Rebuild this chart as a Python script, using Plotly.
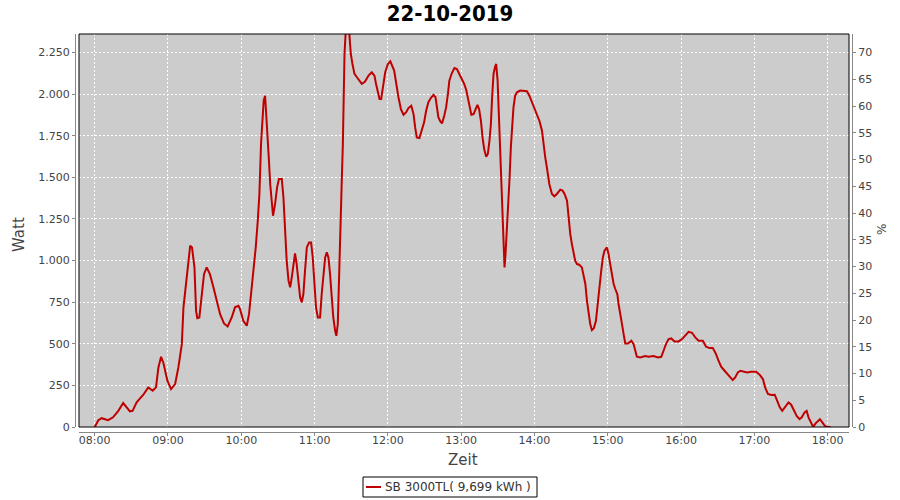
import plotly.graph_objects as go

DATE = "2019-10-22"
title_text = "22-10-2019"
series_name = "SB 3000TL( 9,699 kWh )"

times = [
    "08:00:00", "08:03:00", "08:05:40", "08:11:00", "08:15:00", "08:19:20", "08:23:20", "08:28:50",
    "08:31:00", "08:34:20", "08:39:50", "08:43:50", "08:47:30", "08:50:10", "08:52:10", "08:54:20",
    "08:56:10", "08:59:30", "09:02:30", "09:05:50", "09:08:30", "09:11:20", "09:12:40", "09:14:50",
    "09:16:10", "09:18:10", "09:19:40", "09:21:40", "09:23:00", "09:24:00", "09:25:40", "09:27:40",
    "09:29:30", "09:31:40", "09:34:20", "09:37:10", "09:39:50", "09:42:40", "09:45:50", "09:48:50",
    "09:52:10", "09:54:50", "09:57:40", "09:59:00", "10:01:40", "10:04:30", "10:06:20", "10:08:00",
    "10:09:50", "10:11:50", "10:13:30", "10:14:50", "10:16:10", "10:17:20", "10:18:20", "10:19:30",
    "10:20:20", "10:21:20", "10:22:30", "10:23:40", "10:25:00", "10:26:00", "10:27:40", "10:29:20",
    "10:30:50", "10:33:10", "10:34:30", "10:35:50", "10:37:10", "10:38:40", "10:40:00", "10:41:20",
    "10:42:40", "10:44:00", "10:45:20", "10:46:50", "10:48:10", "10:49:30", "10:50:50", "10:52:10",
    "10:53:40", "10:55:30", "10:57:10", "10:58:30", "10:59:50", "11:01:10", "11:02:40", "11:04:30",
    "11:05:50", "11:07:10", "11:08:40", "11:10:00", "11:11:20", "11:12:40", "11:14:10", "11:15:20",
    "11:16:50", "11:17:50", "11:19:00", "11:20:10", "11:21:10", "11:22:20", "11:23:10", "11:24:00",
    "11:24:30", "11:25:50", "11:27:50", "11:28:40", "11:29:40", "11:31:00", "11:32:40", "11:34:40",
    "11:36:30", "11:38:40", "11:41:20", "11:44:10", "11:46:50", "11:49:00", "11:50:20", "11:51:50",
    "11:53:10", "11:54:30", "11:55:50", "11:57:50", "12:00:00", "12:02:00", "12:05:10", "12:06:50",
    "12:08:40", "12:10:40", "12:12:50", "12:15:00", "12:16:50", "12:19:10", "12:21:00", "12:22:20",
    "12:23:40", "12:25:50", "12:27:50", "12:29:40", "12:31:20", "12:33:10", "12:35:10", "12:37:20",
    "12:39:00", "12:40:10", "12:41:20", "12:42:50", "12:44:20", "12:46:10", "12:47:40", "12:49:10",
    "12:50:20", "12:52:20", "12:54:30", "12:56:30", "12:58:40", "13:00:40", "13:02:30", "13:04:10",
    "13:05:30", "13:06:50", "13:08:20", "13:10:10", "13:11:40", "13:13:20", "13:14:40", "13:16:10",
    "13:17:30", "13:18:50", "13:20:30", "13:21:50", "13:23:10", "13:24:20", "13:25:20", "13:26:30",
    "13:27:40", "13:28:40", "13:29:50", "13:30:50", "13:32:00", "13:33:20", "13:34:10", "13:35:00",
    "13:35:30", "13:36:20", "13:37:20", "13:38:30", "13:39:40", "13:40:40", "13:41:50", "13:42:50",
    "13:44:10", "13:45:40", "13:48:20", "13:51:00", "13:53:50", "13:55:50", "13:57:50", "13:59:50",
    "14:02:00", "14:04:10", "14:06:10", "14:07:20", "14:08:50", "14:10:10", "14:12:10", "14:14:20",
    "14:16:20", "14:18:20", "14:21:10", "14:23:00", "14:24:40", "14:26:40", "14:27:50", "14:29:20",
    "14:30:40", "14:32:00", "14:33:20", "14:34:50", "14:36:40", "14:38:50", "14:40:10", "14:41:40",
    "14:43:00", "14:44:20", "14:45:40", "14:47:00", "14:48:40", "14:50:20", "14:51:40", "14:53:00",
    "14:54:40", "14:56:00", "14:57:20", "14:59:20", "15:00:40", "15:02:00", "15:03:20", "15:04:50",
    "15:06:10", "15:07:50", "15:08:50", "15:10:10", "15:11:40", "15:13:00", "15:14:20", "15:16:30",
    "15:19:20", "15:21:10", "15:22:30", "15:23:50", "15:26:40", "15:30:40", "15:33:20", "15:37:30",
    "15:41:10", "15:43:50", "15:45:40", "15:47:40", "15:49:50", "15:52:00", "15:54:40", "15:58:00",
    "16:00:50", "16:03:30", "16:06:10", "16:09:00", "16:11:40", "16:14:20", "16:17:50", "16:20:30",
    "16:23:20", "16:26:00", "16:28:40", "16:30:40", "16:32:50", "16:35:40", "16:38:20", "16:40:30",
    "16:42:20", "16:44:20", "16:46:30", "16:48:40", "16:51:20", "16:54:10", "16:57:20", "17:01:30",
    "17:04:20", "17:07:00", "17:08:50", "17:11:10", "17:13:50", "17:16:40", "17:18:40", "17:20:50",
    "17:22:50", "17:25:10", "17:28:00", "17:30:10", "17:32:20", "17:34:40", "17:37:00", "17:38:50",
    "17:41:10", "17:42:50", "17:44:20", "17:46:40", "17:48:10", "17:50:10", "17:52:10", "17:53:40",
    "17:55:40", "17:57:40", "17:59:40", "18:02:30",
]

watts = [
    0, 41, 53, 41, 58, 97, 144, 94,
    97, 148, 194, 238, 218, 238, 358, 422,
    388, 278, 228, 258, 358, 498, 719, 879,
    959, 1089, 1079, 959, 698, 654, 658, 818,
    918, 959, 918, 839, 758, 678, 622, 604,
    658, 719, 728, 708, 638, 608, 678, 799,
    918, 1079, 1239, 1399, 1700, 1861, 1960, 1990,
    1900, 1760, 1620, 1460, 1320, 1269, 1340, 1440,
    1490, 1490, 1380, 1159, 999, 879, 839, 899,
    979, 1043, 979, 879, 779, 749, 799, 939,
    1079, 1109, 1109, 1019, 879, 719, 658, 658,
    799, 899, 1019, 1049, 1019, 918, 779, 658,
    578, 548, 618, 959, 1320, 1500, 1700, 2011,
    2241, 2420, 2450, 2341, 2241, 2181, 2121, 2101,
    2081, 2061, 2075, 2111, 2131, 2111, 2061, 2001,
    1971, 1971, 2041, 2131, 2181, 2197, 2141, 2061,
    1981, 1910, 1876, 1891, 1916, 1930, 1881, 1800,
    1740, 1736, 1790, 1830, 1900, 1951, 1976, 1996,
    1981, 1930, 1861, 1837, 1824, 1870, 1920, 2001,
    2081, 2125, 2157, 2151, 2117, 2091, 2061, 2025,
    1981, 1920, 1876, 1880, 1910, 1935, 1910, 1840,
    1740, 1670, 1624, 1640, 1720, 1820, 1981, 2121,
    2161, 2181, 2081, 1880, 1540, 1380, 1159, 1019,
    959, 1039, 1159, 1340, 1500, 1680, 1840, 1920,
    1990, 2011, 2021, 2021, 2017, 1990, 1951, 1920,
    1880, 1837, 1780, 1700, 1620, 1560, 1460, 1400,
    1386, 1400, 1426, 1420, 1400, 1360, 1260, 1159,
    1099, 1039, 999, 979, 975, 959, 918, 859,
    758, 678, 618, 582, 594, 638, 739, 839,
    939, 1019, 1059, 1079, 1039, 979, 918, 859,
    829, 799, 739, 668, 618, 558, 502, 502,
    518, 498, 458, 422, 418, 426, 422, 426,
    418, 422, 458, 498, 528, 532, 514, 514,
    528, 552, 572, 566, 538, 518, 518, 482,
    474, 474, 438, 398, 362, 338, 314, 294,
    282, 298, 328, 338, 334, 328, 332, 332,
    314, 288, 238, 198, 192, 194, 158, 118,
    97, 118, 148, 134, 97, 67, 47, 58,
    88, 97, 58, 17, 1, 22, 37, 47,
    28, 7, 0, 0,
]

watt_ticks = [0, 250, 500, 750, 1000, 1250, 1500, 1750, 2000, 2250]
pct_ticks = [0, 5, 10, 15, 20, 25, 30, 35, 40, 45, 50, 55, 60, 65, 70]
hour_ticks = ["08:00", "09:00", "10:00", "11:00", "12:00", "13:00",
              "14:00", "15:00", "16:00", "17:00", "18:00"]

x_vals = [f"{DATE} {t}" for t in times]

W, H = 900, 500
ML, MR, MT, MB = 75, 48, 34, 68
PW, PH = W - ML - MR, H - MT - MB
FONT = "DejaVu Sans"
AX_COLOR = "#888888"
TXT = "#444444"
LINE_COLOR = "#C00000"

fig = go.Figure()
fig.add_trace(go.Scatter(
    x=x_vals, y=watts, mode="lines", name=series_name, showlegend=False,
    line=dict(color=LINE_COLOR, width=2),
))
fig.add_trace(go.Scatter(
    x=[x_vals[0]], y=[None], yaxis="y2", mode="lines",
    showlegend=False, hoverinfo="skip",
))

grid = dict(showgrid=True, gridcolor="white", gridwidth=1, griddash="2px,2px")


def px_x(px):
    return (px - ML) / PW


def px_y(py):
    return (H - MB - py) / PH


# legend box (drawn in paper coordinates)
LEG_L, LEG_R, LEG_T, LEG_B = 363, 537, 477, 497
LEG_MID = (LEG_T + LEG_B) / 2

fig.update_layout(
    width=W, height=H,
    margin=dict(l=ML, r=MR, t=MT, b=MB, autoexpand=False),
    paper_bgcolor="white", plot_bgcolor="#CCCCCC",
    separators=",.",
    showlegend=False,
    font=dict(family=FONT, size=11, color=TXT),
    title=dict(
        text=f"<b>{title_text}</b>", x=0.5, xref="container", xanchor="center",
        y=1 - 13 / H, yref="container", yanchor="middle",
        font=dict(family="DejaVu Sans Condensed, Liberation Sans Narrow, DejaVu Sans",
                  size=22, color="black"),
    ),
    xaxis=dict(
        type="date", domain=[4 / PW, 774 / PW],
        range=[f"{DATE} 07:47:09", f"{DATE} 18:17:30"],
        anchor="free", position=0,
        showline=True, linecolor=AX_COLOR, linewidth=1,
        ticks="outside", ticklen=3, tickcolor=AX_COLOR,
        ticklabelstandoff=-5,
        tickvals=[f"{DATE} {h}" for h in hour_ticks], ticktext=hour_ticks,
        tickfont=dict(family=FONT, size=11, color=TXT),
        zeroline=False, **grid,
    ),
    yaxis=dict(
        domain=[5 / PH, 1], range=[0, 2361],
        anchor="free", position=0,
        showline=True, linecolor=AX_COLOR, linewidth=1,
        ticks="outside", ticklen=3, tickcolor=AX_COLOR,
        tickvals=watt_ticks, tickformat=",d",
        tickfont=dict(family=FONT, size=11, color=TXT),
        zeroline=False, **grid,
    ),
    yaxis2=dict(
        overlaying="y", side="right", range=[0, 73.46],
        anchor="free", position=1,
        showline=True, linecolor=AX_COLOR, linewidth=1,
        ticks="outside", ticklen=3, tickcolor=AX_COLOR,
        tickvals=pct_ticks, showgrid=False, zeroline=False,
        tickfont=dict(family=FONT, size=11, color=TXT),
    ),
    shapes=[
        dict(type="rect", xref="x domain", yref="y domain", x0=0, x1=1, y0=0, y1=1,
             line=dict(color="black", width=1), layer="above"),
        dict(type="rect", xref="paper", yref="paper",
             x0=px_x(LEG_L), x1=px_x(LEG_R), y0=px_y(LEG_B), y1=px_y(LEG_T),
             line=dict(color="black", width=1), fillcolor="white", layer="above"),
        dict(type="line", xref="paper", yref="paper",
             x0=px_x(366), x1=px_x(381), y0=px_y(LEG_MID), y1=px_y(LEG_MID),
             line=dict(color=LINE_COLOR, width=2), layer="above"),
    ],
    annotations=[
        dict(text="Watt", xref="paper", yref="paper", xanchor="center", yanchor="middle",
             x=px_x(19), y=px_y(235), showarrow=False, textangle=-90,
             font=dict(family=FONT, size=15, color=TXT)),
        dict(text="Zeit", xref="paper", yref="paper", xanchor="center", yanchor="middle",
             x=px_x(463), y=px_y(460), showarrow=False,
             font=dict(family=FONT, size=15, color=TXT)),
        dict(text="%", xref="paper", yref="paper", xanchor="center", yanchor="middle",
             x=px_x(882), y=px_y(229), showarrow=False, textangle=-90,
             font=dict(family=FONT, size=12, color=TXT)),
        dict(text=series_name, xref="paper", yref="paper", xanchor="left", yanchor="middle",
             x=px_x(383), y=px_y(LEG_MID), showarrow=False,
             font=dict(family=FONT, size=12, color="#333333")),
    ],
)

fig.write_html("out.html", config={"displayModeBar": False},
               post_script="document.body.style.margin='0px';")
